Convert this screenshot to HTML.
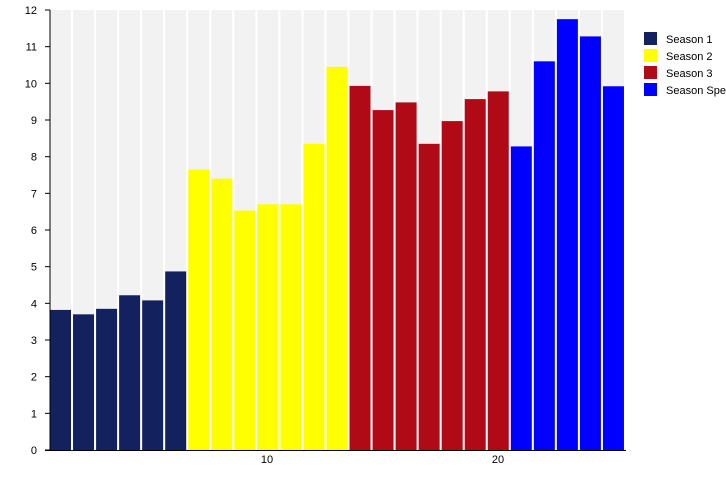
<!DOCTYPE html>
<html><head><meta charset="utf-8"><style>body{margin:0;background:#fff}svg{display:block}</style></head><body>
<svg width="726" height="500" xmlns="http://www.w3.org/2000/svg" font-family="Liberation Sans, sans-serif" font-size="11">
<g fill="#f2f2f2">
<rect x="50" y="10" width="21" height="440"/><rect x="73.04" y="10" width="21" height="440"/><rect x="96.08" y="10" width="21" height="440"/><rect x="119.12" y="10" width="21" height="440"/><rect x="142.16" y="10" width="21" height="440"/><rect x="165.2" y="10" width="21" height="440"/><rect x="188.24" y="10" width="21" height="440"/><rect x="211.28" y="10" width="21" height="440"/><rect x="234.32" y="10" width="21" height="440"/><rect x="257.36" y="10" width="21" height="440"/><rect x="280.4" y="10" width="21" height="440"/><rect x="303.44" y="10" width="21" height="440"/><rect x="326.48" y="10" width="21" height="440"/><rect x="349.52" y="10" width="21" height="440"/><rect x="372.56" y="10" width="21" height="440"/><rect x="395.6" y="10" width="21" height="440"/><rect x="418.64" y="10" width="21" height="440"/><rect x="441.68" y="10" width="21" height="440"/><rect x="464.72" y="10" width="21" height="440"/><rect x="487.76" y="10" width="21" height="440"/><rect x="510.8" y="10" width="21" height="440"/><rect x="533.84" y="10" width="21" height="440"/><rect x="556.88" y="10" width="21" height="440"/><rect x="579.92" y="10" width="21" height="440"/><rect x="602.96" y="10" width="21" height="440"/>
</g>
<g fill="#13215f">
<rect x="50" y="309.93" width="21" height="140.07"/><rect x="73.04" y="314.33" width="21" height="135.67"/><rect x="96.08" y="308.83" width="21" height="141.17"/><rect x="119.12" y="295.27" width="21" height="154.73"/><rect x="142.16" y="300.4" width="21" height="149.6"/><rect x="165.2" y="271.43" width="21" height="178.57"/>
</g>
<g fill="#ffff00">
<rect x="188.24" y="169.5" width="21" height="280.5"/><rect x="211.28" y="178.67" width="21" height="271.33"/><rect x="234.32" y="210.57" width="21" height="239.43"/><rect x="257.36" y="204.33" width="21" height="245.67"/><rect x="280.4" y="204.33" width="21" height="245.67"/><rect x="303.44" y="143.83" width="21" height="306.17"/><rect x="326.48" y="66.83" width="21" height="383.17"/>
</g>
<g fill="#b00a17">
<rect x="349.52" y="85.9" width="21" height="364.1"/><rect x="372.56" y="110.1" width="21" height="339.9"/><rect x="395.6" y="102.4" width="21" height="347.6"/><rect x="418.64" y="143.83" width="21" height="306.17"/><rect x="441.68" y="121.1" width="21" height="328.9"/><rect x="464.72" y="99.1" width="21" height="350.9"/><rect x="487.76" y="91.4" width="21" height="358.6"/>
</g>
<g fill="#0000ff">
<rect x="510.8" y="146.4" width="21" height="303.6"/><rect x="533.84" y="61.33" width="21" height="388.67"/><rect x="556.88" y="19.17" width="21" height="430.83"/><rect x="579.92" y="36.4" width="21" height="413.6"/><rect x="602.96" y="86.27" width="21" height="363.73"/>
</g>
<g stroke="#000">
<line x1="45" x2="50" y1="450" y2="450"/><line x1="45" x2="50" y1="413.33" y2="413.33"/><line x1="45" x2="50" y1="376.67" y2="376.67"/><line x1="45" x2="50" y1="340" y2="340"/><line x1="45" x2="50" y1="303.33" y2="303.33"/><line x1="45" x2="50" y1="266.67" y2="266.67"/><line x1="45" x2="50" y1="230" y2="230"/><line x1="45" x2="50" y1="193.33" y2="193.33"/><line x1="45" x2="50" y1="156.67" y2="156.67"/><line x1="45" x2="50" y1="120" y2="120"/><line x1="45" x2="50" y1="83.33" y2="83.33"/><line x1="45" x2="50" y1="46.67" y2="46.67"/><line x1="45" x2="50" y1="10" y2="10"/>
</g>
<g text-anchor="end">
<text x="37" y="454">0</text><text x="37" y="417.3">1</text><text x="37" y="380.7">2</text><text x="37" y="344">3</text><text x="37" y="307.3">4</text><text x="37" y="270.7">5</text><text x="37" y="234">6</text><text x="37" y="197.3">7</text><text x="37" y="160.7">8</text><text x="37" y="124">9</text><text x="37" y="87.3">10</text><text x="37" y="50.7">11</text><text x="37" y="14">12</text>
</g>
<line x1="50" y1="10" x2="50" y2="450" stroke="#000"/>
<line x1="45" y1="450.5" x2="626" y2="450.5" stroke="#000"/>
<text x="267" y="463" text-anchor="middle">10</text>
<text x="498" y="463" text-anchor="middle">20</text>
<rect x="644" y="32" width="13" height="13" fill="#13215f"/><text x="666" y="43">Season 1</text>
<rect x="644" y="49" width="13" height="13" fill="#ffff00"/><text x="666" y="60">Season 2</text>
<rect x="644" y="66" width="13" height="13" fill="#b00a17"/><text x="666" y="77">Season 3</text>
<rect x="644" y="83" width="13" height="13" fill="#0000ff"/><text x="666" y="94">Season Specials</text>
</svg>
</body></html>
